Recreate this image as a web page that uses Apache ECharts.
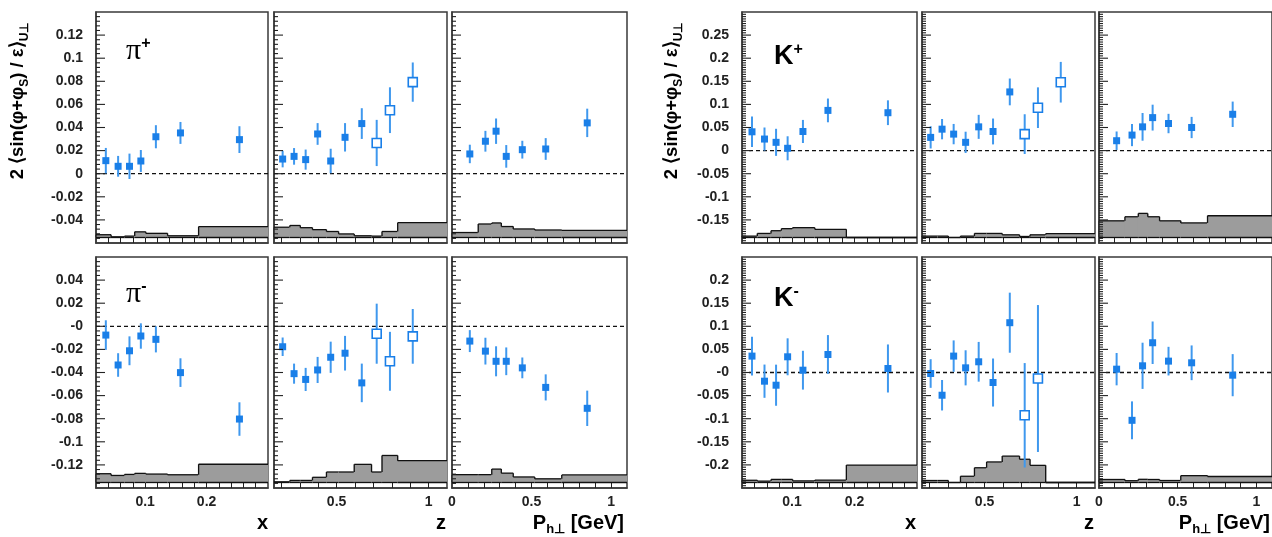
<!DOCTYPE html>
<html>
<head>
<meta charset="utf-8">
<script src="https://cdn.jsdelivr.net/npm/echarts@6/dist/echarts.min.js"></script>
<style>
  html, body { margin: 0; padding: 0; background: #fff; }
  #main { width: 1272px; height: 537px; }
</style>
</head>
<body>
<div id="main"></div>
<script>
// bin centres / bin edges (same binning for all hadrons)
const xPts  = [0.036, 0.056, 0.0745, 0.093, 0.1175, 0.1575, 0.2535];
const zPts  = [0.207, 0.269, 0.332, 0.397, 0.468, 0.546, 0.637, 0.718, 0.79, 0.914];
const phPts = [0.112, 0.21, 0.277, 0.341, 0.442, 0.589, 0.85];
const zOpen = [0, 0, 0, 0, 0, 0, 0, 1, 1, 1];

const xEdges  = [0.02, 0.0445, 0.0665, 0.083, 0.101, 0.1365, 0.187, 0.3];
const zEdges  = [0.16, 0.246, 0.303, 0.369, 0.445, 0.511, 0.596, 0.69, 0.747, 0.832, 1.1];
const phEdges = [0, 0.165, 0.25, 0.31, 0.385, 0.52, 0.69, 1.1];

// tick labels
const xLabels  = [0.1, 0.2];
const zLabels  = [0.5, 1];
const phLabels = [0, 0.5, 1];

// pi+
const piPlusX      = [0.0113, 0.0064, 0.0064, 0.011, 0.032, 0.0353, 0.0295];
const piPlusXErr   = [0.011, 0.009, 0.011, 0.0095, 0.01, 0.0095, 0.0116];
const piPlusXSys   = [0.0024, 0.0006, 0.0012, 0.0049, 0.0036, 0.0015, 0.0094];
const piPlusZ      = [0.0127, 0.015, 0.0122, 0.0344, 0.011, 0.0315, 0.0434, 0.0266, 0.055, 0.0793];
const piPlusZErr   = [0.0072, 0.0072, 0.0087, 0.0094, 0.0106, 0.0123, 0.0133, 0.02, 0.0198, 0.017];
const piPlusZSys   = [0.0089, 0.0104, 0.0085, 0.0068, 0.0052, 0.0031, 0.0015, 0.0012, 0.0052, 0.0128];
const piPlusPh     = [0.0171, 0.0281, 0.0368, 0.015, 0.0208, 0.0214, 0.044];
const piPlusPhErr  = [0.008, 0.009, 0.011, 0.0098, 0.0077, 0.0094, 0.0123];
const piPlusPhSys  = [0.0043, 0.0117, 0.0126, 0.0095, 0.0074, 0.0065, 0.0061];

// pi-
const piMinusX     = [-0.0076, -0.0335, -0.0212, -0.0084, -0.0113, -0.0401, -0.0803];
const piMinusXErr  = [0.0128, 0.0102, 0.0125, 0.011, 0.0113, 0.0124, 0.0145];
const piMinusXSys  = [0.0076, 0.0061, 0.007, 0.0079, 0.0073, 0.0067, 0.0158];
const piMinusZ     = [-0.0177, -0.041, -0.046, -0.0378, -0.0268, -0.0233, -0.049, -0.0064, -0.0303, -0.0087];
const piMinusZErr  = [0.008, 0.0087, 0.01, 0.0113, 0.0135, 0.015, 0.0167, 0.026, 0.0255, 0.0237];
const piMinusZSys  = [0.0006, 0.0018, 0.0018, 0.0045, 0.0091, 0.0091, 0.0157, 0.0091, 0.0234, 0.0189];
const piMinusPh    = [-0.0128, -0.0215, -0.0303, -0.0303, -0.036, -0.0529, -0.071];
const piMinusPhErr = [0.0095, 0.0116, 0.013, 0.012, 0.009, 0.0113, 0.0153];
const piMinusPhSys = [0.0068, 0.0068, 0.0116, 0.0081, 0.0048, 0.0032, 0.0066];

// K+
const kPlusX       = [0.0407, 0.025, 0.0179, 0.005, 0.0414, 0.087, 0.082];
const kPlusXErr    = [0.033, 0.025, 0.0293, 0.026, 0.025, 0.0257, 0.0268];
const kPlusXSys    = [0.003, 0.0088, 0.0147, 0.0191, 0.0213, 0.0176, 0];
const kPlusZ       = [0.0286, 0.0464, 0.0357, 0.0179, 0.0514, 0.0414, 0.127, 0.0357, 0.0929, 0.148];
const kPlusZErr    = [0.024, 0.022, 0.022, 0.023, 0.026, 0.028, 0.029, 0.043, 0.044, 0.044];
const kPlusZSys    = [0.003, 0.003, 0, 0.003, 0.0088, 0.0088, 0.0058, 0.0022, 0.0058, 0.0082];
const kPlusPh      = [0.0214, 0.0336, 0.0514, 0.0714, 0.0586, 0.05, 0.0786];
const kPlusPhErr   = [0.02, 0.024, 0.03, 0.028, 0.021, 0.023, 0.0275];
const kPlusPhSys   = [0.0361, 0.0449, 0.0522, 0.0449, 0.0361, 0.0316, 0.0471];

// K-
const kMinusX      = [0.0355, -0.0188, -0.0275, 0.034, 0.005, 0.039, 0.0087];
const kMinusXErr   = [0.042, 0.036, 0.0445, 0.04, 0.042, 0.042, 0.052];
const kMinusXSys   = [0.0048, 0.003, 0.0067, 0.0067, 0.0035, 0.0052, 0.0378];
const kMinusZ      = [-0.0022, -0.0492, 0.0355, 0.0101, 0.0232, -0.0217, 0.1078, -0.0926, -0.013];
const kMinusZErr   = [0.031, 0.033, 0.034, 0.038, 0.043, 0.052, 0.065, 0.113, 0.159];
const kMinusZSys   = [0.0043, 0.0043, 0, 0.0135, 0.0319, 0.0445, 0.0571, 0.0503, 0.0371, 0];
const kMinusPh     = [0.0072, -0.1035, 0.0145, 0.0644, 0.0246, 0.021, -0.0058];
const kMinusPhErr  = [0.035, 0.041, 0.05, 0.046, 0.031, 0.0376, 0.0456];
const kMinusPhSys  = [0.0065, 0.0039, 0.0069, 0.0065, 0.0043, 0.0148, 0.013];

const FONT = '"Liberation Sans", Arial, sans-serif';
const BLUE = '#1a7fe8';
const ERR_BLUE = '#3f98ee';
const FRAME = '#3a3a3a';

function ticksEvery(from, to, step) {
  const out = [];
  for (let v = from; v <= to + 1e-9; v += step) out.push(+v.toFixed(3));
  return out;
}

const kinds = {
  x:  { pts: xPts,  edges: xEdges,  min: 0.02, max: 0.3, ticks: ticksEvery(0.04, 0.28, 0.02), labels: xLabels },
  z:  { pts: zPts,  edges: zEdges,  min: 0.16, max: 1.1, ticks: ticksEvery(0.2, 1.0, 0.1),    labels: zLabels },
  ph: { pts: phPts, edges: phEdges, min: 0,    max: 1.1, ticks: ticksEvery(0.1, 1.0, 0.1),    labels: phLabels }
};

const rows = {
  piPlus:  { side: 0, r: 0, min: -0.06, max: 0.14, interval: 0.02, minor: 5,  zero: '0' },
  piMinus: { side: 0, r: 1, min: -0.14, max: 0.06, interval: 0.02, minor: 5,  zero: '-0' },
  kPlus:   { side: 1, r: 0, min: -0.2,  max: 0.3,  interval: 0.05, minor: 10, zero: '0' },
  kMinus:  { side: 1, r: 1, min: -0.25, max: 0.25, interval: 0.05, minor: 10, zero: '-0' }
};

const colLeft  = [[96, 274, 452], [742, 922, 1099]];
const colWidth = [[172, 173, 175], [175, 173, 173]];
const rowTop = [12, 257];
const panelH = 231;

const panels = [
  { row: 'piPlus',  col: 0, kind: 'x',  v: piPlusX,   e: piPlusXErr,   sys: piPlusXSys },
  { row: 'piPlus',  col: 1, kind: 'z',  v: piPlusZ,   e: piPlusZErr,   sys: piPlusZSys },
  { row: 'piPlus',  col: 2, kind: 'ph', v: piPlusPh,  e: piPlusPhErr,  sys: piPlusPhSys },
  { row: 'piMinus', col: 0, kind: 'x',  v: piMinusX,  e: piMinusXErr,  sys: piMinusXSys },
  { row: 'piMinus', col: 1, kind: 'z',  v: piMinusZ,  e: piMinusZErr,  sys: piMinusZSys },
  { row: 'piMinus', col: 2, kind: 'ph', v: piMinusPh, e: piMinusPhErr, sys: piMinusPhSys },
  { row: 'kPlus',   col: 0, kind: 'x',  v: kPlusX,    e: kPlusXErr,    sys: kPlusXSys },
  { row: 'kPlus',   col: 1, kind: 'z',  v: kPlusZ,    e: kPlusZErr,    sys: kPlusZSys },
  { row: 'kPlus',   col: 2, kind: 'ph', v: kPlusPh,   e: kPlusPhErr,   sys: kPlusPhSys },
  { row: 'kMinus',  col: 0, kind: 'x',  v: kMinusX,   e: kMinusXErr,   sys: kMinusXSys },
  { row: 'kMinus',  col: 1, kind: 'z',  v: kMinusZ,   e: kMinusZErr,   sys: kMinusZSys },
  { row: 'kMinus',  col: 2, kind: 'ph', v: kMinusPh,  e: kMinusPhErr,  sys: kMinusPhSys }
];

function fmt(v) { return String(+v.toFixed(3)); }

// systematic band: one item per bin, drawn as a step histogram
function renderBand(params, api) {
  const x0 = api.value(0), x1 = api.value(1), top = api.value(2), prev = api.value(3), base = api.value(4);
  const pb = api.coord([x0, base]);
  const pt = api.coord([x1, top]);
  const pp = api.coord([x0, prev]);
  const line = { stroke: '#111', lineWidth: 1.3 };
  return {
    type: 'group',
    children: [
      { type: 'rect', shape: { x: pb[0] - 0.5, y: pt[1], width: pt[0] - pb[0] + 1, height: pb[1] - pt[1] }, style: { fill: '#9c9c9c' } },
      { type: 'line', shape: { x1: pb[0], y1: pt[1], x2: pt[0], y2: pt[1] }, style: line },
      { type: 'line', shape: { x1: pb[0], y1: pp[1], x2: pb[0], y2: pt[1] }, style: line },
      { type: 'line', shape: { x1: pb[0], y1: pb[1], x2: pt[0], y2: pb[1] }, style: line }
    ]
  };
}

function renderPoint(params, api) {
  const x = api.value(0), y = api.value(1), e = api.value(2), open = api.value(3);
  const c = api.coord([x, y]);
  const hi = api.coord([x, y + e]);
  const lo = api.coord([x, y - e]);
  const s = open ? 9 : 7;
  return {
    type: 'group',
    children: [
      { type: 'line', shape: { x1: c[0], y1: hi[1], x2: c[0], y2: lo[1] }, style: { stroke: ERR_BLUE, lineWidth: 2 } },
      { type: 'rect', shape: { x: c[0] - s / 2, y: c[1] - s / 2, width: s, height: s },
        style: open ? { fill: '#fff', stroke: BLUE, lineWidth: 1.6 } : { fill: BLUE } }
    ]
  };
}

// inward y ticks along the left frame edge
function renderYTick(params, api) {
  const p = api.coord([api.value(0), api.value(1)]);
  const len = api.value(2) ? 9 : 4;
  return { type: 'line', shape: { x1: p[0], y1: p[1], x2: p[0] + len, y2: p[1] }, style: { stroke: '#222', lineWidth: 1.1 } };
}

const grid = [], xAxis = [], yAxis = [], series = [];

panels.forEach((p, i) => {
  const row = rows[p.row];
  const k = kinds[p.kind];
  const bottomRow = row.r === 1;

  grid.push({
    left: colLeft[row.side][p.col], top: rowTop[row.r],
    width: colWidth[row.side][p.col], height: panelH,
    show: true, borderColor: FRAME, borderWidth: 1.5, backgroundColor: '#fff'
  });

  xAxis.push({
    type: 'value', gridIndex: i, min: k.min, max: k.max,
    axisLine: { show: true, onZero: false, lineStyle: { color: FRAME, width: 1.5 } },
    splitLine: { show: false },
    axisTick: { show: true, inside: true, length: 5, customValues: k.ticks, lineStyle: { color: '#222', width: 1 } },
    axisLabel: {
      show: bottomRow, customValues: k.labels, formatter: fmt, margin: 7,
      fontSize: 14, fontWeight: 'bold', color: '#222', fontFamily: FONT
    }
  });

  yAxis.push({
    type: 'value', gridIndex: i, min: row.min, max: row.max, interval: row.interval,
    axisLine: { show: true, onZero: false, lineStyle: { color: FRAME, width: 1.5 } },
    splitLine: { show: false },
    axisTick: { show: false },
    minorTick: { show: false },
    axisLabel: {
      show: p.col === 0, showMinLabel: false, showMaxLabel: false, margin: 13,
      formatter: v => Math.abs(v) < 1e-9 ? row.zero : fmt(v),
      fontSize: 14, fontWeight: 'bold', color: '#222', fontFamily: FONT
    }
  });

  // tick positions: major every interval, minor every interval/minor
  const nSteps = Math.round((row.max - row.min) / row.interval * row.minor);
  const tickData = [];
  for (let t = 1; t < nSteps; t++) {
    tickData.push([k.min, row.min + t * row.interval / row.minor, t % row.minor === 0 ? 1 : 0]);
  }
  series.push({
    type: 'custom', xAxisIndex: i, yAxisIndex: i, renderItem: renderYTick, silent: true, z: 4,
    data: tickData
  });

  const base = row.min + 5.5 / panelH * (row.max - row.min);
  series.push({
    type: 'custom', xAxisIndex: i, yAxisIndex: i, renderItem: renderBand, silent: true, z: 1,
    data: p.sys.map((h, j) => [k.edges[j], k.edges[j + 1], base + h, j ? base + p.sys[j - 1] : base, base])
  });

  series.push({
    type: 'line', xAxisIndex: i, yAxisIndex: i, symbol: 'none', silent: true, z: 2,
    lineStyle: { color: '#111', width: 1.3, type: [4, 3] },
    data: [[k.min, 0], [k.max, 0]]
  });

  series.push({
    type: 'custom', xAxisIndex: i, yAxisIndex: i, renderItem: renderPoint, silent: true, z: 3,
    data: p.v.map((v, j) => [k.pts[j], v, p.e[j], p.kind === 'z' ? zOpen[j] : 0])
  });
});

const titleRich = {
  m: { fontSize: 18.5, fontWeight: 'bold', fontFamily: FONT, lineHeight: 26, color: '#111' },
  s: { fontSize: 12, fontWeight: 'bold', fontFamily: FONT, lineHeight: 13, verticalAlign: 'bottom', color: '#111' }
};
function yTitle(x) {
  return {
    type: 'text', x: x, y: 101, rotation: Math.PI / 2,
    style: {
      text: '{m|2 \u27e8sin(\u03c6+\u03c6}{s|S}{m|) / \u03b5\u27e9}{s|U\u22a5}',
      rich: titleRich, align: 'center', verticalAlign: 'middle', textAlign: 'center', textVerticalAlign: 'middle'
    }
  };
}

function hadronLabel(x, y, main, sup, serif) {
  return {
    type: 'text', x: x, y: y,
    style: {
      text: '{m|' + main + '}{p|' + sup + '}',
      rich: {
        m: serif ? { fontSize: 30, fontFamily: '"Liberation Serif", serif', lineHeight: 30, color: '#111' }
                 : { fontSize: 27, fontWeight: 'bold', fontFamily: FONT, lineHeight: 30, color: '#111' },
        p: { fontSize: 16, fontWeight: 'bold', fontFamily: FONT, lineHeight: 14, verticalAlign: 'top', color: '#111' }
      }
    }
  };
}

function axisTitle(xRight, text) {
  return {
    type: 'text', x: xRight, y: 523,
    style: {
      text: text,
      rich: {
        m: { fontSize: 20, fontWeight: 'bold', fontFamily: FONT, lineHeight: 26, color: '#111' },
        s: { fontSize: 13, fontWeight: 'bold', fontFamily: FONT, lineHeight: 12, verticalAlign: 'bottom', color: '#111' }
      },
      align: 'right', verticalAlign: 'middle', textAlign: 'right', textVerticalAlign: 'middle'
    }
  };
}

const graphic = [
  yTitle(18), yTitle(672),
  hadronLabel(126, 36, '\u03c0', '+', true),
  hadronLabel(126, 279, '\u03c0', '-', true),
  hadronLabel(774, 42, 'K', '+', false),
  hadronLabel(774, 284, 'K', '-', false),
  axisTitle(268, '{m|x}'), axisTitle(446, '{m|z}'), axisTitle(624, '{m|P}{s|h\u22a5}{m| [GeV]}'),
  axisTitle(916, '{m|x}'), axisTitle(1094, '{m|z}'), axisTitle(1270, '{m|P}{s|h\u22a5}{m| [GeV]}')
];

const chart = echarts.init(document.getElementById('main'));
chart.setOption({
  animation: false,
  backgroundColor: '#fff',
  grid, xAxis, yAxis, series, graphic
});
</script>
</body>
</html>
